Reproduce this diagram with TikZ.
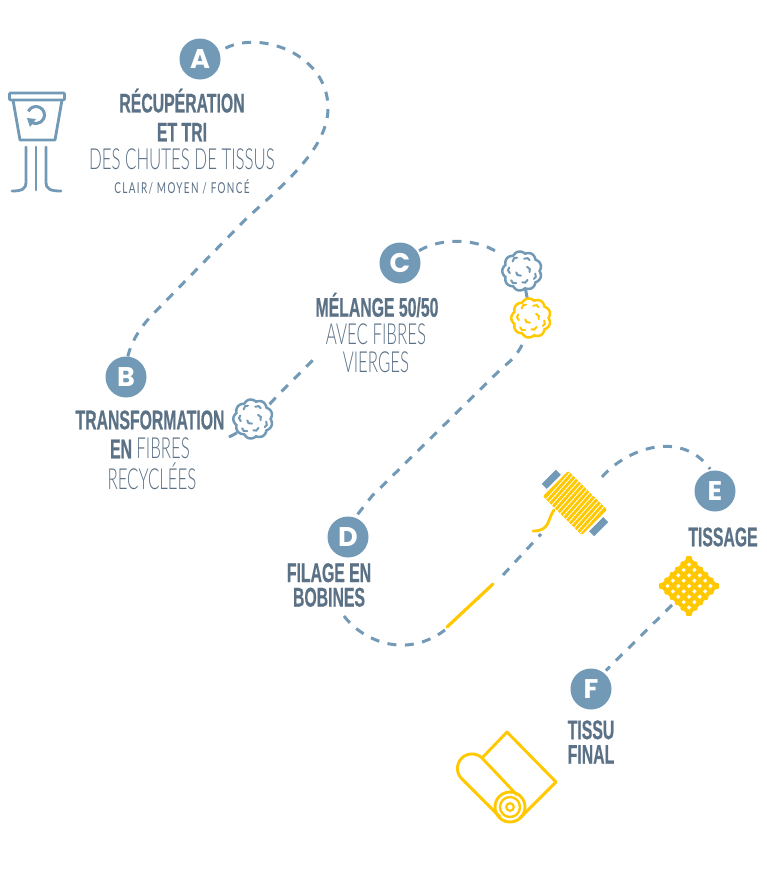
\documentclass[tikz,border=0pt]{standalone}
\usepackage{fontspec}
\usetikzlibrary{arrows.meta}

\newfontfamily\capsfont[FakeStretch=0.585,FakeBold=0.5]{Liberation Sans Bold}
\newfontfamily\thinfont[FakeStretch=0.58]{Lato Light}
\newfontfamily\smallfont[FakeStretch=0.66,LetterSpace=9]{Lato}
\newfontfamily\letterfont{Poppins}

\definecolor{stepblue}{HTML}{7299B5}
\definecolor{textblue}{HTML}{5B7186}
\definecolor{threadyellow}{HTML}{FFC800}

\tikzset{
    stepdot/.style={circle, fill=stepblue, text=white, inner sep=0pt, minimum size=41pt, font=\letterfont\bfseries\fontsize{27}{27}\selectfont},
    steptext/.style={align=center, inner sep=0pt, text=textblue, font=\capsfont\fontsize{27}{28}\selectfont},
    thintext/.style={steptext, font=\thinfont\fontsize{29}{28}\selectfont},
    route/.style={color=stepblue, line width=3pt, dash pattern=on 9pt off 8.5pt},
    iconline/.style={color=stepblue, line width=2.8pt},
    thread/.style={color=threadyellow, line width=3.2pt, line cap=round},
    pics/fibreball/.style={code={
        \filldraw[fill=white, line width=2.5pt] plot[domain=0:360, samples=181] (\x : {17.6 + 2.1 * abs(sin(4.5 * \x))}) -- cycle;
        \foreach \a/\r in {20/12, 70/9, 125/12, 180/11, 235/12, 290/11, 340/5, 130/3}
        {
            \draw[line width=2pt, line cap=round] (\a : \r) ++(\a - 60 : 2.5) arc[radius = 3.5, start angle = \a - 60, delta angle = 110];
        }
    }}
}

\begin{document}
\begin{tikzpicture}[x=1pt, y=-1pt]

\useasboundingbox (0, 0) rectangle (767, 879);

% draw step circles
\node[stepdot] (stepA) at (200, 59) {A};
\node[stepdot] (stepB) at (126, 377) {B};
\node[stepdot] (stepC) at (400, 263) {C};
\node[stepdot] (stepD) at (348, 537) {D};
\node[stepdot] (stepE) at (715, 491) {E};
\node[stepdot] (stepF) at (591, 689) {F};

% free ends of the route
\coordinate (ballB) at (253, 419);
\coordinate (ballC) at (522, 271);
\coordinate (ballY) at (531, 318);
\coordinate (tailB) at (229, 437);
\coordinate (endB) at (318, 355);
\coordinate (endC) at (497, 252);
\coordinate (startY) at (522, 345);
\coordinate (startD) at (344, 616);
\coordinate (endD) at (445, 630);
\coordinate (threadA) at (447, 627);
\coordinate (threadB) at (493, 584);
\coordinate (startS) at (503, 575);
\coordinate (endS) at (541, 534);
\coordinate (startE) at (602, 477);
\coordinate (startF) at (672, 605);

% draw route
\draw[route, shorten <=7pt] (stepA.22) .. controls (262, 30) and (328, 55) .. (328, 108) .. controls (328, 150) and (280, 187) .. (245, 220) -- (155, 312) .. controls (141, 326) and (132, 340) .. (stepB.85);
\draw[route] (tailB) .. controls (250, 427) and (262, 412) .. (280, 393) -- (endB);
\draw[route, shorten <=2pt] (stepC.33) .. controls (440, 238) and (475, 238) .. (endC);
\draw[route, dash pattern=on 30pt off 0pt] (ballC) -- (ballY);
\draw[route] (startY) .. controls (517, 355) and (510, 362) .. (503, 367) -- (372, 496) -- (stepD.70);
\draw[route] (startD) .. controls (362, 640) and (405, 660) .. (endD);
\draw[route] (startS) -- (endS);
\draw[route, shorten >=2pt] (startE) .. controls (625, 450) and (680, 428) .. (stepE.100);
\draw[route, shorten >=3pt] (startF) -- (stepF.52);

% draw fibre balls
\pic[color=stepblue] at (ballB) {fibreball};
\pic[color=stepblue] at (ballC) {fibreball};
\pic[color=threadyellow] at (ballY) {fibreball};

% draw loose thread
\draw[thread] (threadA) -- (threadB);

% draw bin
\draw[iconline, rounded corners=1pt] (9.5, 93) -- (64.5, 93) -- (64.5, 100) -- (9.5, 100) -- cycle;
\draw[iconline, line join=round] (13, 100) -- (20, 140) -- (55, 140) -- (62, 100);
\draw[iconline, line width=3pt] (36, 115) ++(205 : 8.5) arc[radius = 8.5, start angle = 205, delta angle = 280];
\fill[stepblue] (27, 118) -- (36, 119) -- (30, 127) -- cycle;
\draw[iconline, line cap=round] (26, 147) -- (26, 182) .. controls (26, 189) and (22, 191) .. (12, 191);
\draw[iconline, line cap=round] (36, 147) -- (36, 190);
\draw[iconline, line cap=round] (46, 147) -- (46, 182) .. controls (46, 189) and (50, 191) .. (61, 191);

% draw spool
\begin{scope}[shift={(575, 503)}, rotate=-45]
    \fill[stepblue] (-37, -10) rectangle (-30, 10);
    \fill[stepblue] (30, -10) rectangle (37, 10);
    \fill[threadyellow, rounded corners=2pt] (-27.5, -18) rectangle (27.5, 18);
    \foreach \i in {-24,-20,...,24}
    {
        \draw[white, line width=0.8pt] (\i - 1, -18) -- (\i + 1, 18);
    }
\end{scope}
\draw[thread, line width=2.8pt] (554, 510) .. controls (547, 520) and (550, 531) .. (533, 531);

% draw fabric
\begin{scope}[shift={(689, 586)}, rotate=45]
    \foreach \i in {-2.5,-1.5,...,2.5}
    {
        \draw[color=threadyellow, line width=4.4pt, line cap=round] (\i * 7.6, -20.5) -- (\i * 7.6, 20.5);
        \draw[color=threadyellow, line width=4.4pt, line cap=round] (-20.5, \i * 7.6) -- (20.5, \i * 7.6);
    }
\end{scope}

% draw roll
\draw[thread, line cap=butt, line join=round, line width=2.9pt] (482, 758) -- (507, 732) -- (556, 782) -- (520, 818);
\draw[thread, line cap=butt, line width=2.9pt] (517, 795) -- (482, 758) arc[radius = 14.5, start angle = -46, delta angle = -180] -- (500, 817);
\draw[thread, line width=2.9pt] (510, 807) circle (15);
\draw[thread, line width=2.4pt] (510, 807) circle (10);
\draw[thread, line width=2.2pt] (510, 807) circle (3.8);

% draw labels
\node[steptext] (labelA) at (182, 115) {RÉCUPÉRATION\\[1pt]ET TRI};
\node[thintext] (thinA) at (182, 159) {DES CHUTES DE TISSUS};
\node[steptext, font=\smallfont\fontsize{15}{15}\selectfont] (shadesA) at (182, 187) {CLAIR/ MOYEN / FONCÉ};
\node[steptext] (labelB) at (150, 420) {TRANSFORMATION};
\node[steptext] (labelBb) at (150, 448) {EN {\thinfont\fontsize{29}{28}\selectfont FIBRES}};
\node[thintext] (thinB) at (152, 476) {RECYCLÉES};
\node[steptext] (labelC) at (377, 305) {MÉLANGE 50/50};
\node[thintext] (thinC) at (376, 348) {AVEC FIBRES\\VIERGES};
\node[steptext, font=\capsfont\fontsize{27}{24.5}\selectfont] (labelD) at (329, 585) {FILAGE EN\\BOBINES};
\node[steptext] (labelE) at (723, 537) {TISSAGE};
\node[steptext, font=\capsfont\fontsize{27}{24.5}\selectfont] (labelF) at (591, 742) {TISSU\\FINAL};

\end{tikzpicture}
\end{document}
